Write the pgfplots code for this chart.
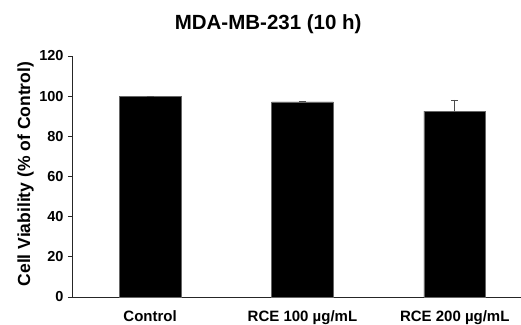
\documentclass[border=0pt]{standalone}
\usepackage{fontspec}
\setmainfont{Liberation Sans}
\usepackage{pgfplots}
\pgfplotsset{compat=1.18}
\begin{document}
\begin{tikzpicture}
\begin{axis}[
  name=ax,
  scale only axis,
  width=449pt, height=241pt,
  xmin=-0.513, xmax=2.435,
  ymin=0, ymax=120,
  ytick={0,20,...,120},
  xtick={0,1,2},
  xticklabels={Control, RCE 100 µg/mL, RCE 200 µg/mL},
  axis lines*=left,
  axis line style={line width=0.8pt, black!85},
  tick align=outside,
  major tick length=4pt,
  y tick style={line width=0.8pt, black!85},
  x tick style={draw=none},
  /pgf/number format/assume math mode=true,
  yticklabel style={font=\fontsize{14.5}{17}\selectfont\bfseries, xshift=-1pt},
  xticklabel style={font=\fontsize{15}{18}\selectfont\bfseries, anchor=base, yshift=-20pt},
  title={MDA-MB-231 (10 h)},
  title style={font=\fontsize{20.5}{24}\selectfont\bfseries, at={(rel axis cs:0.437,1)}, anchor=base, yshift=20pt},
  ylabel={Cell Viability (\% of Control)},
  ylabel style={font=\fontsize{17.5}{21}\selectfont\bfseries, at={(rel axis cs:0,0.51)}, anchor=center, yshift=46.5pt},
  clip=false,
]
\addplot[ybar, bar width=0.405, fill=black, draw=black!60, line width=0.4pt,
  error bars/.cd, y dir=plus, y explicit,
  error bar style={line width=0.8pt, black!70},
  error mark options={rotate=90, mark size=3.5pt, line width=0.8pt, black!70}]
  coordinates {(0,100) +- (0,0) (1,97.2) +- (0,0.3) (2,92.6) +- (0,5.5)};
\end{axis}
\pgfresetboundingbox
\path[use as bounding box] ([xshift=-72pt,yshift=-27pt]ax.south west) rectangle ([yshift=56pt]ax.north east);
\end{tikzpicture}
\end{document}
